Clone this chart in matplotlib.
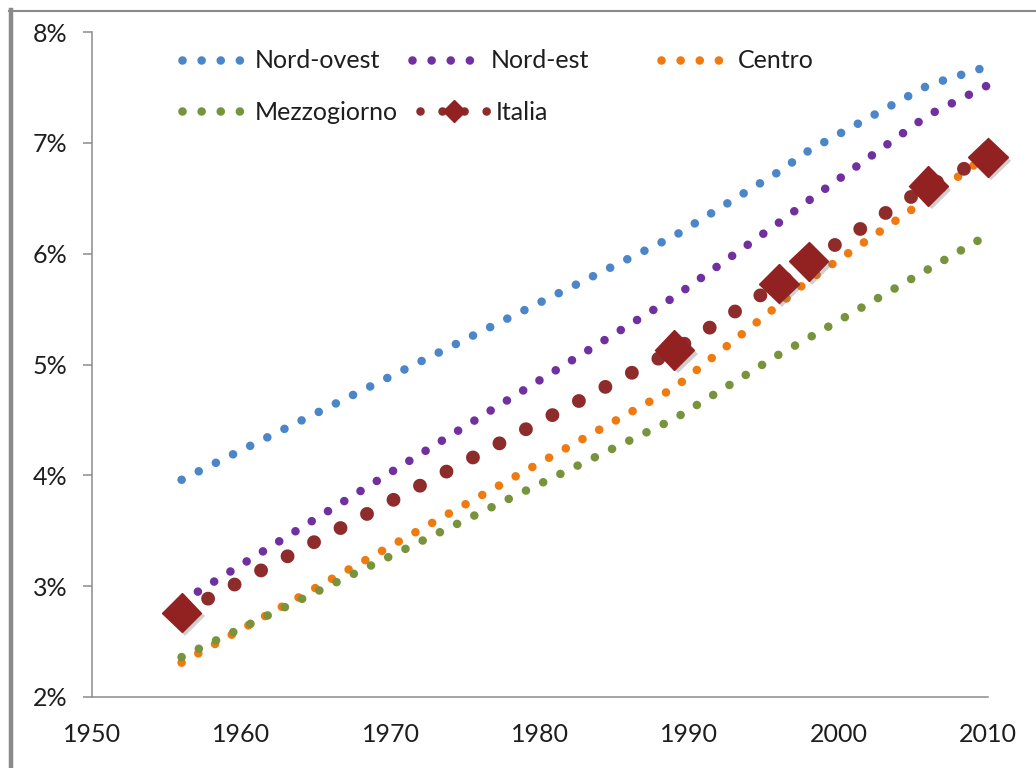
import matplotlib
matplotlib.use("Agg")
import matplotlib.pyplot as plt
from matplotlib.lines import Line2D
from matplotlib.legend import Legend
import matplotlib.patheffects as pe

plt.rcParams['font.family'] = ['Lato', 'DejaVu Sans']

# anni osservati e quote (%) per ripartizione
anni = [1956, 1989, 1996, 1998, 2006, 2010]
nord_ovest = [3.96, 6.16, 6.74, 6.93, 7.52, 7.69]
nord_est = [2.86, 5.61, 6.28, 6.48, 7.25, 7.52]
centro = [2.31, 4.79, 5.54, 5.76, 6.50, 6.89]
mezzogiorno = [2.36, 4.51, 5.09, 5.24, 5.86, 6.17]
italia = [2.76, 5.13, 5.73, 5.93, 6.61, 6.87]

x_ticks = [1950, 1960, 1970, 1980, 1990, 2000, 2010]
y_ticks = [2, 3, 4, 5, 6, 7, 8]

serie = [
    ("Nord-ovest", nord_ovest, "#4A86C8"),
    ("Nord-est", nord_est, "#7030A0"),
    ("Centro", centro, "#EE7A10"),
    ("Mezzogiorno", mezzogiorno, "#77933C"),
]
col_italia = "#8E2B2B"
col_diam = "#922222"

fig = plt.figure(figsize=(10.36, 7.68), dpi=100)
ax = fig.add_axes([92 / 1036, 1 - 697 / 768, 896 / 1036, 665 / 768])

dots = (0, (0.001, 2.22))
dots_it = (0, (0.001, 2.16))

handles = []
for nome, vals, col in serie:
    ax.plot(anni, vals, color=col, lw=6.2, linestyle=dots,
            dash_capstyle='round', clip_on=False)
    handles.append(Line2D([], [], color=col, lw=6.2, linestyle=dots,
                          dash_capstyle='round'))

ax.plot(anni, italia, color=col_italia, lw=10, linestyle=dots_it,
        dash_capstyle='round', clip_on=False)
ax.plot(anni, italia, linestyle='none', marker='D', ms=20, color=col_diam,
        mec=col_diam, clip_on=False, zorder=5,
        path_effects=[pe.withSimplePatchShadow(offset=(2.5, -2.5),
                                               shadow_rgbFace='#777777',
                                               alpha=0.35)])
handles.append(Line2D([], [], color=col_italia, lw=6.2,
                      linestyle=(0, (0.001, 2.56)), dash_capstyle='round',
                      marker='D', ms=11.7, mfc=col_diam, mec=col_diam))

ax.set_xlim(1950, 2010)
ax.set_ylim(2, 8)
ax.set_xticks(x_ticks)
ax.set_yticks(y_ticks)
ax.set_yticklabels([f"{v}%" for v in y_ticks])

for s in ['top', 'right']:
    ax.spines[s].set_visible(False)
for s in ['left', 'bottom']:
    ax.spines[s].set_color('#8C8C8C')
    ax.spines[s].set_linewidth(1.1)

ax.tick_params(axis='y', length=6.5, width=1.1, color='#8C8C8C', pad=11,
               labelsize=18, labelcolor='#1E1E1E')
ax.tick_params(axis='x', length=0, pad=19, labelsize=18, labelcolor='#1E1E1E')

# legenda: una voce per posizione (come in Excel)
fs = 18
px_em = fs * 100 / 72
etichette = ["Nord-ovest", "Nord-est", "Centro", "Mezzogiorno", "Italia"]
# (centro primo punto, fine linea, inizio testo, riga y) in pixel
pos = [(182, 241, 256, 61), (412, 471, 492, 61), (661, 720, 739, 61),
       (182, 241, 256, 112), (420, 487, 497, 112)]
for h, lab, (x0, x1, xt, py) in zip(handles, etichette, pos):
    leg = Legend(ax, [h], [lab], loc='center left',
                 bbox_to_anchor=(x0 / 1036, 1 - py / 768),
                 bbox_transform=fig.transFigure, frameon=False,
                 fontsize=fs, handlelength=(x1 - x0) / px_em,
                 handletextpad=(xt - x1 - 1) / px_em,
                 borderpad=0, borderaxespad=0, numpoints=1)
    for t in leg.get_texts():
        t.set_color('#1E1E1E')
    ax.add_artist(leg)

# cornice grigia
fig.add_artist(Line2D([10.5 / 1036, 10.5 / 1036], [0, 1 - 10 / 768],
                      transform=fig.transFigure, color='#8A8A8A', lw=3.2))
fig.add_artist(Line2D([8.5 / 1036, 1], [1 - 11 / 768, 1 - 11 / 768],
                      transform=fig.transFigure, color='#8A8A8A', lw=1.5))

fig.savefig("out.png", dpi=100)
